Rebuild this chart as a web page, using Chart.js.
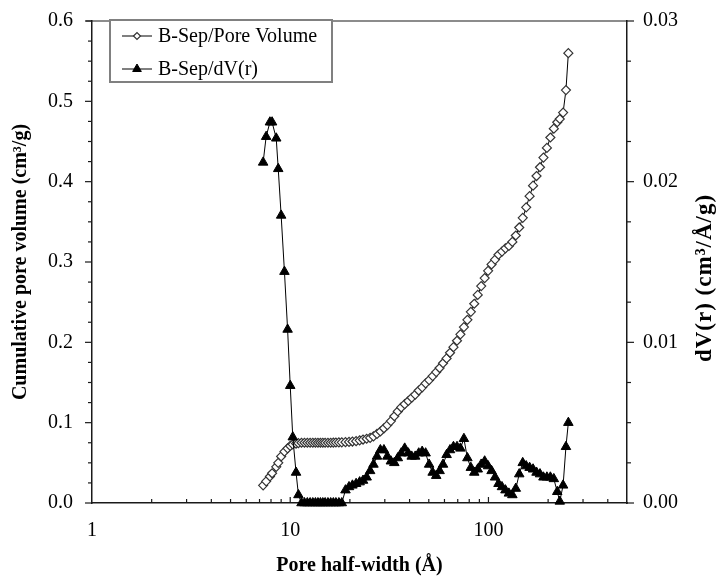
<!DOCTYPE html>
<html><head><meta charset="utf-8">
<script src="https://cdn.jsdelivr.net/npm/chart.js@4/dist/chart.umd.min.js"></script>
<style>html,body{margin:0;padding:0;background:#fff;}</style>
</head><body>
<canvas id="c" width="718" height="578" style="width:718px;height:578px;display:block"></canvas>
<script>
const poreWidth = [7.3, 7.56, 7.9, 8.1, 8.5, 8.7, 9.0, 9.35, 9.7, 10.0, 10.3, 10.7, 11.0,
  11.4, 11.8, 12.2, 12.6, 13.0, 13.4, 13.8, 14.2, 14.6, 15.0, 15.5, 16.0, 16.5, 17.0, 17.6, 18.2,
  19.0, 19.8, 20.6, 21.5, 22.4, 23.3, 24.3, 25.3, 26.3, 27.4, 28.5, 29.7, 30.9, 32.2, 33.5, 34.9, 36.3, 37.8, 39.4, 41.0,
  42.7, 44.5, 46.3, 48.2, 50.2, 52.3, 54.5, 56.7, 59.0, 61.5, 64.0, 66.6, 69.4, 72.2, 75.2,
  78.3, 81.5, 84.8, 88.3, 91.9, 95.7, 99.6, 103.7, 108, 112.4, 117, 121.8, 126.8, 132, 137.4, 143, 148.9, 155, 161.3, 167.9,
  174.8, 182, 189.4, 197.2, 205.3, 213.7, 222.4, 229, 238, 246, 253];
const cumulativeVolume = [0.022, 0.027, 0.033, 0.037, 0.045, 0.050, 0.058, 0.064, 0.068, 0.071, 0.073, 0.074, 0.0745,
  0.075, 0.075, 0.075, 0.075, 0.075, 0.075, 0.075, 0.075, 0.075, 0.075, 0.075, 0.075, 0.0752, 0.0753, 0.0754, 0.0755,
  0.0757, 0.076, 0.0765, 0.077, 0.078, 0.079, 0.080, 0.081, 0.083, 0.086, 0.089, 0.093, 0.097, 0.102, 0.108, 0.114, 0.119, 0.123, 0.127, 0.131,
  0.135, 0.140, 0.144, 0.149, 0.153, 0.158, 0.163, 0.168, 0.174, 0.180, 0.187, 0.194, 0.202, 0.210, 0.219,
  0.228, 0.238, 0.248, 0.259, 0.270, 0.280, 0.289, 0.297, 0.303, 0.309, 0.313, 0.317, 0.320, 0.325, 0.333, 0.343, 0.355, 0.368, 0.382, 0.395,
  0.407, 0.418, 0.430, 0.442, 0.455, 0.466, 0.474, 0.478, 0.486, 0.514, 0.560];
const dVr = [0.0212, 0.0228, 0.0237, 0.0237, 0.0227, 0.0208, 0.0179, 0.0144, 0.0108, 0.0073, 0.0041, 0.0019, 0.0005,
  0, 0, 0, 0, 0, 0, 0, 0, 0, 0, 0, 0, 0, 0, 0, 0,
  0.0008, 0.0010, 0.0011, 0.0012, 0.0013, 0.0014, 0.0016, 0.0020, 0.0024, 0.0029, 0.0033, 0.0033, 0.0029, 0.0026, 0.0025, 0.0028, 0.0031, 0.0034, 0.0031, 0.0029,
  0.0029, 0.0031, 0.0032, 0.0031, 0.0024, 0.0019, 0.0017, 0.0020, 0.0024, 0.0030, 0.0033, 0.0035, 0.0035, 0.0034, 0.0040,
  0.0028, 0.0022, 0.0019, 0.0021, 0.0024, 0.0026, 0.0023, 0.0020, 0.0016, 0.0012, 0.0010, 0.0008, 0.0006, 0.0005, 0.0009, 0.0018, 0.0025, 0.0023, 0.0022, 0.0021,
  0.0019, 0.0018, 0.0016, 0.0016, 0.0016, 0.0015, 0.0007, 0.0001, 0.0011, 0.0035, 0.0050];
const xTickLabels = [1, 10, 100];
const leftTickLabels = [0, 0.1, 0.2, 0.3, 0.4, 0.5, 0.6];
const rightTickLabels = [0, 0.01, 0.02, 0.03];
const seriesNames = ['B-Sep/Pore Volume', 'B-Sep/dV(r)'];
const xTitle = 'Pore half-width (Å)';
const yLeftTitle = 'Cumulative pore volume (cm³/g)';
const yRightTitle = 'dV(r) (cm³/Å/g)';

const SERIF = "'Liberation Serif', 'Times New Roman', serif";
const AX = '#1a1a1a';

const decorations = {
  id: 'decorations',
  afterDraw(chart) {
    const ctx = chart.ctx;
    const {left, right, top, bottom} = chart.chartArea;
    const xs = chart.scales.x, yl = chart.scales.y, yr = chart.scales.y1;
    ctx.save();
    ctx.strokeStyle = AX;
    ctx.lineWidth = 1.2;
    ctx.beginPath(); ctx.moveTo(left - 6, top); ctx.lineTo(right, top); ctx.stroke();
    for (const d of [1, 10, 100]) {
      for (let k = 1; k <= 9; k++) {
        const v = k * d;
        if (v <= 1 || v >= 500) continue;
        const px = xs.getPixelForValue(v);
        const len = k === 1 ? 6 : 4;
        ctx.beginPath(); ctx.moveTo(px, bottom); ctx.lineTo(px, bottom - len); ctx.stroke();
      }
    }
    for (let i = 0; i <= 24; i++) {
      const py = yl.getPixelForValue(i * 0.025);
      const len = i % 4 === 0 ? 7 : 4;
      ctx.beginPath(); ctx.moveTo(left, py); ctx.lineTo(left - len, py); ctx.stroke();
    }
    for (let i = 0; i <= 12; i++) {
      const py = yr.getPixelForValue(i * 0.0025);
      const len = i % 4 === 0 ? 7 : 4;
      ctx.beginPath(); ctx.moveTo(right, py); ctx.lineTo(right + len, py); ctx.stroke();
    }
    ctx.fillStyle = '#000';
    ctx.font = "bold 20px " + SERIF;
    ctx.textAlign = 'center';
    ctx.textBaseline = 'middle';
    ctx.fillText(xTitle, (left + right) / 2, 566);
    const cy = (top + bottom) / 2;
    ctx.save(); ctx.translate(21, cy); ctx.rotate(-Math.PI / 2); ctx.fillText(yLeftTitle, 0, 0); ctx.restore();
    ctx.save(); ctx.translate(705, 278); ctx.rotate(-Math.PI / 2);
    ctx.font = "bold 23px " + SERIF;
    try { ctx.letterSpacing = '1px'; } catch (e) {}
    ctx.fillText(yRightTitle, 0, 0);
    try { ctx.letterSpacing = '0px'; } catch (e) {}
    ctx.restore();
    ctx.strokeStyle = '#808080';
    ctx.lineWidth = 2;
    ctx.fillStyle = '#fff';
    ctx.fillRect(110, 20, 222, 62);
    ctx.strokeRect(110, 20, 222, 62);
    const rows = [36, 69];
    chart.data.datasets.forEach((ds, i) => {
      const y = rows[i];
      ctx.strokeStyle = '#000'; ctx.lineWidth = 1;
      ctx.beginPath(); ctx.moveTo(122, y); ctx.lineTo(152, y); ctx.stroke();
      ctx.fillStyle = ds.pointBackgroundColor; ctx.strokeStyle = ds.pointBorderColor;
      ctx.lineWidth = ds.pointBorderWidth;
      Chart.helpers.drawPoint(ctx, {pointStyle: ds.pointStyle, radius: i === 0 ? 3.5 : 5, rotation: 0, borderWidth: ds.pointBorderWidth}, 137, y);
      ctx.fillStyle = '#000';
      ctx.font = "20px " + SERIF;
      ctx.textAlign = 'left';
      ctx.textBaseline = 'middle';
      ctx.fillText(ds.label, 158, y + 1);
    });
    ctx.restore();
  }
};

const fixV = (w) => (s) => { s.width = w; s.paddingTop = 0; s.paddingBottom = 0; };

new Chart(document.getElementById('c'), {
  type: 'line',
  data: {
    datasets: [
      {
        label: seriesNames[0],
        data: poreWidth.map((x, i) => ({x, y: cumulativeVolume[i]})),
        yAxisID: 'y',
        borderColor: '#000', borderWidth: 1,
        pointStyle: 'rectRot', pointRadius: 4.5,
        pointBackgroundColor: '#fff', pointBorderColor: '#333', pointBorderWidth: 1.2,
        tension: 0, clip: false, order: 2
      },
      {
        label: seriesNames[1],
        data: poreWidth.map((x, i) => ({x, y: dVr[i]})),
        yAxisID: 'y1',
        borderColor: '#000', borderWidth: 1,
        pointStyle: 'triangle', pointRadius: 5.5,
        pointBackgroundColor: '#000', pointBorderColor: '#000', pointBorderWidth: 1,
        tension: 0, clip: false, order: 1
      }
    ]
  },
  options: {
    responsive: false,
    animation: false,
    events: [],
    layout: {padding: {top: 21, left: 0, right: 0, bottom: 0}},
    plugins: {legend: {display: false}, tooltip: {enabled: false}},
    scales: {
      x: {
        type: 'logarithmic', min: 1, max: 500, position: 'bottom',
        grid: {display: false, drawTicks: false},
        border: {display: true, color: AX, width: 1.5},
        ticks: {
          autoSkip: false, maxRotation: 0, padding: 16, color: '#000',
          font: {family: SERIF, size: 20},
          callback: (v) => xTickLabels.some(t => Math.abs(t - v) < 1e-9) ? String(v) : ''
        },
        afterFit: s => { s.height = 75; s.paddingLeft = 0; s.paddingRight = 0; }
      },
      y: {
        position: 'left', min: 0, max: 0.6,
        grid: {display: false, drawTicks: false},
        border: {display: true, color: AX, width: 1.5},
        ticks: {
          stepSize: 0.1, padding: 19, color: '#000',
          font: {family: SERIF, size: 20},
          callback: (v) => leftTickLabels.some(t => Math.abs(t - v) < 1e-9) ? v.toFixed(1) : ''
        },
        afterFit: fixV(92)
      },
      y1: {
        position: 'right', min: 0, max: 0.03,
        grid: {display: false, drawTicks: false},
        border: {display: true, color: AX, width: 1.5},
        ticks: {
          stepSize: 0.01, padding: 16, color: '#000',
          font: {family: SERIF, size: 20},
          callback: (v) => rightTickLabels.some(t => Math.abs(t - v) < 1e-9) ? v.toFixed(2) : ''
        },
        afterFit: fixV(91)
      }
    }
  },
  plugins: [decorations]
});
</script>
</body></html>
